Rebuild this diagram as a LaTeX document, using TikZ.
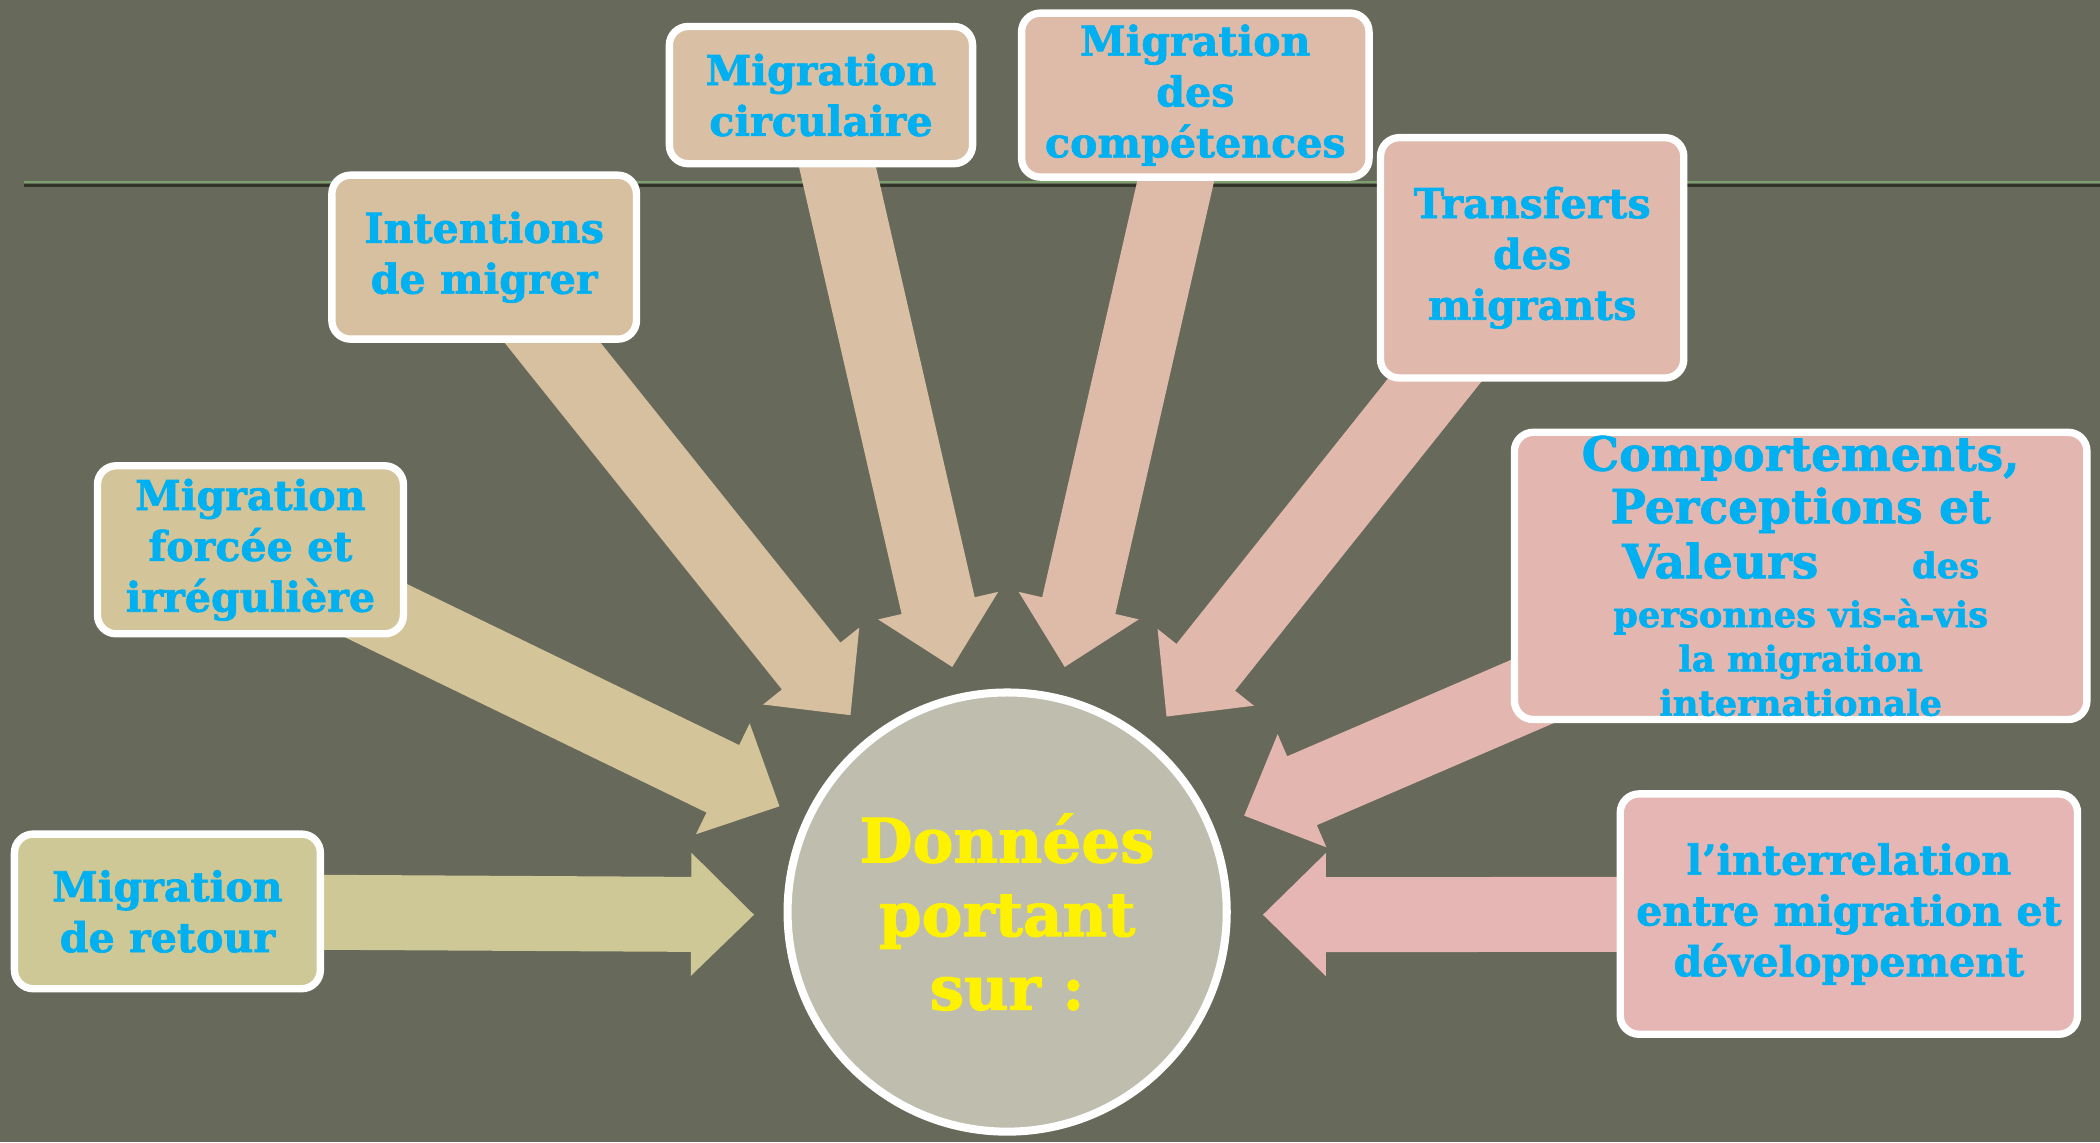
\documentclass[tikz,border=0pt]{standalone}
\usepackage{fontspec}
\setmainfont{DejaVu Serif}[BoldFeatures={FakeBold=1.6}]
\usetikzlibrary{calc}
\definecolor{bgc}{RGB}{103,105,90}
\definecolor{linegreen}{RGB}{122,160,110}
\definecolor{linedark}{RGB}{50,52,42}
\definecolor{txtc}{RGB}{0,176,240}
\definecolor{cA}{RGB}{206,199,150}
\definecolor{cB}{RGB}{211,196,153}
\definecolor{cC}{RGB}{214,192,160}
\definecolor{cD}{RGB}{217,191,163}
\definecolor{cE}{RGB}{222,187,168}
\definecolor{cF}{RGB}{225,185,172}
\definecolor{cG}{RGB}{227,183,176}
\definecolor{cH}{RGB}{229,182,180}
\definecolor{circc}{RGB}{191,190,174}
\pgfdeclarelayer{bglayer}
\pgfdeclarelayer{arrowlayer}
\pgfsetlayers{bglayer,arrowlayer,main}
% fat block arrow from node #1 to coordinate #2, colour #3
\newcommand\fatarrow[3]{%
  \coordinate (#1-#2-b) at ($(#2)!0.94cm!(#1)$);
  \fill[#3] ($(#1)!0.56cm!90:(#2)$) -- ($(#1-#2-b)!0.56cm!90:(#2)$)
    -- ($(#1-#2-b)!0.92cm!90:(#2)$) -- (#2)
    -- ($(#1-#2-b)!0.92cm!-90:(#2)$) -- ($(#1-#2-b)!0.56cm!-90:(#2)$)
    -- ($(#1)!0.56cm!-90:(#2)$) -- cycle;
}
\begin{document}
\begin{tikzpicture}[x=0.02cm,y=-0.02cm,
  box/.style={draw=white, line width=0.11cm, rounded corners=0.28cm,
    align=center, text=txtc, inner sep=0pt,
    font=\fontsize{17.5}{21.6}\selectfont\bfseries}]
\useasboundingbox (0,0) rectangle (1568,853);
\begin{pgfonlayer}{bglayer}
  \fill[bgc] (0,0) rectangle (1568,853);
  \draw[linedark, line width=0.05cm] (18,138.5) -- (1568,138.5);
  \draw[linegreen, line width=0.04cm] (18,136) -- (1568,136);
\end{pgfonlayer}

\node[box, fill=cA, minimum width=4.57cm, minimum height=2.31cm] (b1) at (125,680.5) {Migration\\de retour};
\node[box, fill=cB, minimum width=4.57cm, minimum height=2.51cm] (b2) at (187,410.5) {Migration\\forcée et\\irrégulière};
\node[box, fill=cC, minimum width=4.55cm, minimum height=2.45cm] (b3) at (361.5,192) {Intentions\\de migrer};
\node[box, fill=cD, minimum width=4.53cm, minimum height=2.05cm] (b4) at (613,71) {Migration\\circulaire};
\node[box, fill=cE, minimum width=5.19cm, minimum height=2.45cm] (b5) at (892.5,71) {Migration\\des\\compétences};
\node[box, fill=cF, minimum width=4.53cm, minimum height=3.59cm] (b6) at (1144,192.5) {Transferts\\des\\migrants};
\node[box, fill=cG, minimum width=8.55cm, minimum height=4.29cm,
  font=\fontsize{15}{18.8}\selectfont\bfseries] (b7) at (1344.5,430)
  {{\fontsize{20}{24}\selectfont Comportements,}\\[2pt]
   {\fontsize{20}{24}\selectfont Perceptions et}\\[3pt]
   {\fontsize{20}{24}\selectfont Valeurs}\hspace{1.4cm}des\\[2pt]
   personnes vis-à-vis\\
   la migration\\
   internationale};
\node[box, fill=cH, minimum width=6.83cm, minimum height=3.59cm] (b8) at (1380.5,682.5) {l’interrelation\\entre migration et\\développement};

\node[circle, draw=white, line width=0.12cm, fill=circc, minimum size=6.56cm,
  inner sep=0pt, text=yellow, align=center,
  font=\fontsize{26}{31.3}\selectfont\bfseries] (c) at (752,681) {Données\\portant\\sur :};

\coordinate (t1) at (563,683);
\coordinate (t2) at (582,602);
\coordinate (t3) at (635,534);
\coordinate (t4) at (711,498);
\coordinate (t5) at (795,498);
\coordinate (t6) at (871,535);
\coordinate (t7) at (929,609);
\coordinate (t8) at (943,683);

\begin{pgfonlayer}{arrowlayer}
  \fatarrow{b1}{t1}{cA}
  \fatarrow{b2}{t2}{cB}
  \fatarrow{b3}{t3}{cC}
  \fatarrow{b4}{t4}{cD}
  \fatarrow{b5}{t5}{cE}
  \fatarrow{b6}{t6}{cF}
  \fatarrow{b7}{t7}{cG}
  \fatarrow{b8}{t8}{cH}
\end{pgfonlayer}
\end{tikzpicture}
\end{document}
